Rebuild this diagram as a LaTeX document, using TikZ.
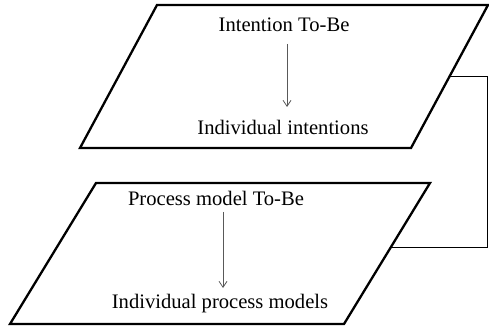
\documentclass[tikz,border=0pt]{standalone}
\usepackage{fontspec}
\setmainfont{Liberation Serif}
\usetikzlibrary{calc,arrows.meta}
\begin{document}
\begin{tikzpicture}[x=1pt,y=-1pt,
  frame/.style={line width=2.3pt,line join=miter},
  link/.style={line width=1pt},
  flow/.style={draw=black!65,line width=0.9pt,-{Straight Barb[length=6pt,width=8pt,line width=0.8pt]}},
  label/.style={anchor=base,inner sep=0pt,font=\fontsize{20.6}{24}\selectfont}]
  \useasboundingbox (0,0) rectangle (489,328);
  % upper parallelogram
  \coordinate (tBL) at (80,148);
  \coordinate (tBR) at (411,148);
  \coordinate (tTR) at (488,5);
  \coordinate (tTL) at (157,5);
  \draw[frame] (tBL) -- (tBR) -- (tTR) -- (tTL) -- cycle;
  % lower parallelogram
  \coordinate (bBL) at (10,324);
  \coordinate (bBR) at (344,324);
  \coordinate (bTR) at (430,183);
  \coordinate (bTL) at (96,183);
  \draw[frame] (bBL) -- (bBR) -- (bTR) -- (bTL) -- cycle;
  % texts
  \node[label] (it) at (284,32) {Intention To-Be};
  \node[label] (ii) at (283,135) {Individual intentions};
  \node[label] (pt) at (216,206) {Process model To-Be};
  \node[label] (pm) at (220,308) {Individual process models};
  \draw[flow] ($(it.base)+(3,12)$) -- ($(ii.base)+(4,-28)$);
  \draw[flow] ($(pt.base)+(7,6)$) -- ($(pm.base)+(3,-20)$);
  % link between the two sides
  \coordinate (p) at ($(tBR)!0.5!(tTR)$);
  \coordinate (q) at ($(bBR)!0.546!(bTR)$);
  \coordinate (rx) at (487,0);
  \draw[link] (p) -- (p -| rx) |- (q);
\end{tikzpicture}
\end{document}
